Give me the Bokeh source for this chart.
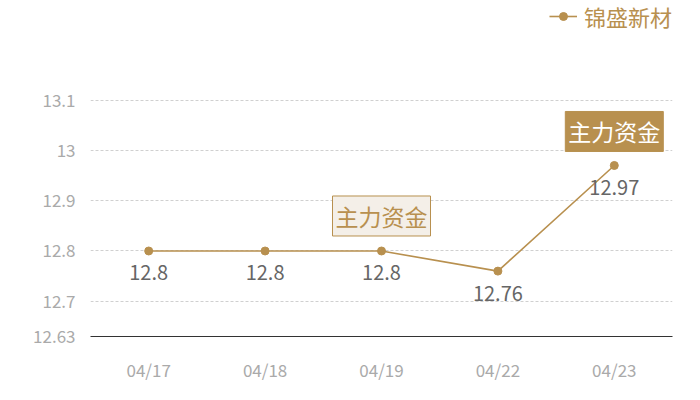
from bokeh.plotting import figure
from bokeh.models import ColumnDataSource, FactorRange, Range1d, FixedTicker, Legend, LegendItem
from bokeh.core.properties import value
from bokeh.embed import file_html
from bokeh.resources import INLINE

dates = ["04/17", "04/18", "04/19", "04/22", "04/23"]
prices = [12.8, 12.8, 12.8, 12.76, 12.97]
price_labels = ["12.8", "12.8", "12.8", "12.76", "12.97"]
y_ticks = [12.63, 12.7, 12.8, 12.9, 13.0, 13.1]
series_name = "锦盛新材"
flag_dates_light = ["04/19"]
flag_prices_light = [12.8]
flag_dates_dark = ["04/23"]
flag_prices_dark = [12.97]
flag_text = "主力资金"

GOLD = "#b8904f"
FONT = "Noto Sans CJK SC"

p = figure(width=684, height=384, x_range=FactorRange(*dates),
           y_range=Range1d(12.63, 13.298), output_backend="svg",
           toolbar_location=None, min_border_left=90, min_border_right=12,
           min_border_top=0, min_border_bottom=47)
p.outline_line_color = None
p.background_fill_color = "white"

src = ColumnDataSource(dict(x=dates, y=prices, lab=price_labels))
ln = p.line("x", "y", source=src, line_color=GOLD, line_width=1.6)
pt = p.scatter("x", "y", source=src, size=8, fill_color=GOLD, line_color=GOLD)

p.text("x", "y", text="lab", source=src, text_font=value(FONT), text_font_size="20px",
       text_color="#666666", text_align="center", text_baseline="middle", y_offset=22)

p.text(x=flag_dates_light, y=flag_prices_light, text=[flag_text], text_font=value(FONT),
       text_font_size="23px", text_color=GOLD, text_align="center", text_baseline="middle",
       y_offset=-35, background_fill_color="#f4efe8", border_line_color=GOLD,
       border_line_width=1, padding=3)
p.text(x=flag_dates_dark, y=flag_prices_dark, text=[flag_text], text_font=value(FONT),
       text_font_size="23px", text_color="white", text_align="center", text_baseline="middle",
       y_offset=-34, background_fill_color=GOLD, border_line_color=GOLD,
       border_line_width=1, padding=3)

p.yaxis.ticker = FixedTicker(ticks=y_ticks)
p.yaxis.axis_line_color = None
p.yaxis.major_tick_line_color = None
p.yaxis.minor_tick_line_color = None
p.yaxis.major_label_text_color = "#aaaaaa"
p.yaxis.major_label_text_font = FONT
p.yaxis.major_label_text_font_size = "17px"
p.yaxis.major_label_standoff = 9

p.xaxis.axis_line_color = "#333333"
p.xaxis.major_tick_line_color = None
p.xaxis.minor_tick_line_color = None
p.xaxis.major_label_text_color = "#aaaaaa"
p.xaxis.major_label_text_font = FONT
p.xaxis.major_label_text_font_size = "17px"
p.xaxis.major_label_standoff = 14

p.xgrid.grid_line_color = None
p.ygrid.ticker = FixedTicker(ticks=[t for t in y_ticks if t != 12.63])
p.ygrid.grid_line_color = "#d0d0d0"
p.ygrid.grid_line_dash = "3 2"

legend = Legend(items=[LegendItem(label=series_name, renderers=[ln, pt])],
                location="top_right", border_line_color=None, background_fill_alpha=0,
                label_text_color=GOLD, label_text_font=FONT, label_text_font_size="22px",
                glyph_width=28, label_standoff=7, padding=0, margin=0, spacing=0)
p.add_layout(legend)

open("out.html", "w").write(file_html(p, INLINE))
